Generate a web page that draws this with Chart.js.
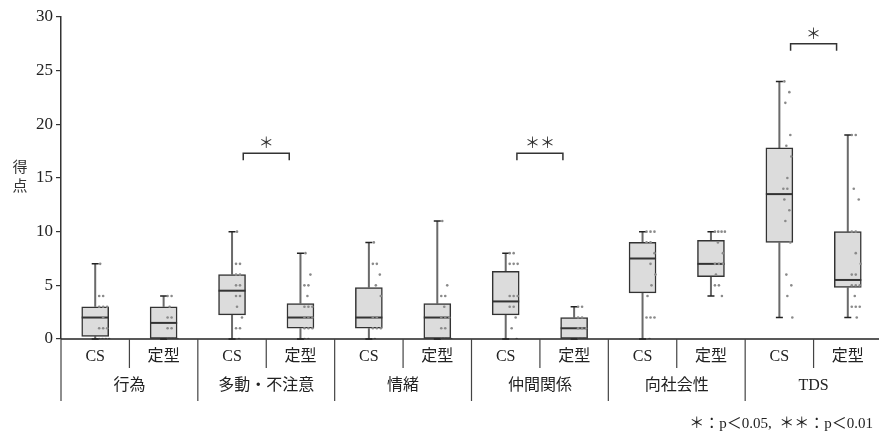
<!DOCTYPE html>
<html lang="ja">
<head>
<meta charset="utf-8">
<script src="https://cdn.jsdelivr.net/npm/chart.js@4.4.1/dist/chart.umd.min.js"></script>
<style>
  html, body { margin: 0; padding: 0; background: #fff; overflow: hidden; }
  #wrap { width: 879px; height: 438px; overflow: hidden; }
</style>
</head>
<body>
<div id="wrap"><canvas id="chart" width="886" height="438"></canvas></div>
<script>
// ── データ ──
const groups = ['行為', '多動・不注意', '情緒', '仲間関係', '向社会性', 'TDS'];
const categories = ['CS', '定型', 'CS', '定型', 'CS', '定型', 'CS', '定型', 'CS', '定型', 'CS', '定型'];

const whiskerLow  = [0, 0, 0, 0, 0, 0, 0, 0, 0, 4, 2, 2];
const q1          = [0.25, 0, 2.25, 1, 1, 0, 2.25, 0, 4.3, 5.8, 9, 4.8];
const median      = [2, 1.5, 4.5, 2, 2, 2, 3.5, 1, 7.5, 7, 13.5, 5.5];
const q3          = [3, 3, 6, 3.3, 4.8, 3.3, 6.3, 2, 9, 9.2, 17.8, 10];
const whiskerHigh = [7, 4, 10, 8, 9, 11, 8, 3, 10, 10, 24, 19];

const scores = [
  [7, 4, 4, 3, 3, 3, 2, 1, 1, 1, 0, 0, 0, 0],
  [4, 4, 3, 2, 2, 1, 1, 0, 0, 0, 0],
  [10, 7, 7, 6, 6, 5, 5, 4, 4, 3, 2, 1, 1, 0],
  [8, 6, 5, 5, 4, 3, 3, 3, 2, 2, 2, 1, 1, 1, 0, 0],
  [9, 7, 7, 6, 5, 4, 2, 2, 1, 1, 1, 0],
  [11, 5, 4, 4, 3, 2, 2, 2, 1, 1, 0, 0, 0, 0],
  [8, 8, 7, 7, 7, 4, 4, 4, 3, 3, 2, 1, 0],
  [3, 3, 2, 2, 1, 1, 1, 0, 0, 0],
  [10, 10, 10, 9, 9, 8, 7, 6, 5, 4, 2, 2, 2, 0],
  [10, 10, 10, 10, 9, 8, 7, 7, 7, 6, 5, 5, 4],
  [24, 23, 22, 19, 18, 17, 15, 14, 14, 13, 12, 11, 9, 6, 5, 4, 2],
  [19, 19, 14, 13, 10, 10, 8, 7, 6, 6, 5, 5, 5, 4, 3, 3, 3, 2],
];

const yTicks = [0, 5, 10, 15, 20, 25, 30];

// 有意差（CS 側のインデックス）
const sigIndex = [2, 6, 10];
const sigLevel = [17.3, 17.3, 27.5];
const sigMarks = ['＊', '＊＊', '＊'];

const yTitle = ['得', '点'];
const footnote = '＊：p＜0.05,  ＊＊：p＜0.01';

// ── 描画設定 ──
const FONT = '"Liberation Serif", "Noto Sans CJK JP", serif';
const CAT_PX = 68.75;

// 同値の点を横にずらす（箱の右側）
function spread(values) {
  const seen = {};
  return values.map((v, k) => {
    const n = values.filter(w => w === v).length;
    const j = seen[v] = (seen[v] || 0) + 1;
    const px = n === 1 ? 5 + (k * 5) % 9 : 4 + (j - 1) * Math.min(4, 10 / (n - 1));
    return px / CAT_PX;
  });
}

const pointData = [];
scores.forEach((vals, i) => {
  const offs = spread(vals);
  vals.forEach((v, k) => pointData.push({ x: i + offs[k], y: v }));
});

const boxPlugin = {
  id: 'boxPlugin',
  beforeDatasetsDraw(chart) {
    const { ctx } = chart;
    const x = chart.scales.x, y = chart.scales.y;
    ctx.save();
    categories.forEach((_, i) => {
      const cx = x.getPixelForValue(i);
      // ひげ
      ctx.strokeStyle = '#6a6a6a';
      ctx.lineWidth = 2;
      ctx.beginPath();
      if (whiskerHigh[i] > q3[i]) {
        ctx.moveTo(cx, y.getPixelForValue(q3[i]));
        ctx.lineTo(cx, y.getPixelForValue(whiskerHigh[i]));
      }
      if (whiskerLow[i] < q1[i]) {
        ctx.moveTo(cx, y.getPixelForValue(q1[i]));
        ctx.lineTo(cx, y.getPixelForValue(whiskerLow[i]));
      }
      ctx.stroke();
      ctx.strokeStyle = '#222';
      ctx.lineWidth = 1.5;
      ctx.beginPath();
      [whiskerHigh[i], whiskerLow[i]].forEach(v => {
        const py = y.getPixelForValue(v);
        ctx.moveTo(cx - 3.5, py);
        ctx.lineTo(cx + 3.5, py);
      });
      ctx.stroke();
    });
    ctx.restore();
  },
  afterDatasetDraw(chart, args) {
    if (args.index !== 0) return;
    const { ctx } = chart;
    const x = chart.scales.x, y = chart.scales.y;
    ctx.save();
    ctx.strokeStyle = '#333';
    ctx.lineWidth = 2;
    categories.forEach((_, i) => {
      const cx = x.getPixelForValue(i);
      const py = y.getPixelForValue(median[i]);
      ctx.beginPath();
      ctx.moveTo(cx - 13.5, py);
      ctx.lineTo(cx + 13.5, py);
      ctx.stroke();
    });
    ctx.restore();
  },
  afterDraw(chart) {
    const { ctx, chartArea } = chart;
    const x = chart.scales.x, y = chart.scales.y;
    const zeroY = y.getPixelForValue(0);
    const W = chart.width;
    ctx.save();

    // x 軸線と表の罫線
    ctx.strokeStyle = '#222';
    ctx.lineWidth = 1.5;
    ctx.beginPath();
    ctx.moveTo(chartArea.left, zeroY);
    ctx.lineTo(W, zeroY);
    ctx.stroke();

    ctx.strokeStyle = '#444';
    ctx.lineWidth = 1.2;
    ctx.beginPath();
    ctx.moveTo(chartArea.left, zeroY);
    ctx.lineTo(chartArea.left, zeroY + 62);
    for (let i = 1; i < categories.length; i++) {
      const bx = (x.getPixelForValue(i - 1) + x.getPixelForValue(i)) / 2;
      ctx.moveTo(bx, zeroY);
      ctx.lineTo(bx, zeroY + (i % 2 === 0 ? 62 : 29));
    }
    ctx.stroke();

    ctx.fillStyle = '#222';
    ctx.textAlign = 'center';
    ctx.textBaseline = 'middle';
    ctx.font = '16px ' + FONT;
    categories.forEach((c, i) => ctx.fillText(c, x.getPixelForValue(i), zeroY + 18));
    groups.forEach((g, gi) => {
      const gx = (x.getPixelForValue(gi * 2) + x.getPixelForValue(gi * 2 + 1)) / 2;
      ctx.fillText(g, gx, zeroY + 47);
    });

    // 縦軸タイトル
    ctx.fillStyle = '#333';
    ctx.font = '15px ' + FONT;
    const midY = (chartArea.top + zeroY) / 2;
    yTitle.forEach((ch, k) => ctx.fillText(ch, 20, midY - 9.5 + k * 19));

    // 有意差の括弧
    sigIndex.forEach((si, k) => {
      const mid = (x.getPixelForValue(si) + x.getPixelForValue(si + 1)) / 2;
      const py = y.getPixelForValue(sigLevel[k]);
      ctx.strokeStyle = '#333';
      ctx.lineWidth = 1.5;
      ctx.beginPath();
      ctx.moveTo(mid - 23, py + 7);
      ctx.lineTo(mid - 23, py);
      ctx.lineTo(mid + 23, py);
      ctx.lineTo(mid + 23, py + 7);
      ctx.stroke();
      ctx.fillStyle = '#333';
      ctx.font = '15px ' + FONT;
      ctx.fillText(sigMarks[k], mid, py - 9);
    });

    // 注
    ctx.fillStyle = '#222';
    ctx.font = '15px ' + FONT;
    ctx.textAlign = 'right';
    ctx.fillText(footnote, 873, 424);
    ctx.restore();
  }
};

new Chart(document.getElementById('chart'), {
  type: 'bar',
  data: {
    labels: categories,
    datasets: [
      {
        data: categories.map((_, i) => [q1[i], q3[i]]),
        backgroundColor: '#dcdcdc',
        borderColor: '#333',
        borderWidth: 1.5,
        borderSkipped: false,
        barThickness: 27,
        grouped: false,
        order: 1,
        xAxisID: 'x',
      },
      {
        type: 'scatter',
        data: pointData,
        xAxisID: 'xp',
        order: 0,
        pointRadius: 1.3,
        pointBackgroundColor: '#8a8a8a',
        pointBorderWidth: 0,
      },
    ],
  },
  options: {
    responsive: false,
    animation: false,
    layout: { padding: { left: 0, top: 17, right: 1, bottom: 99 } },
    plugins: { legend: { display: false }, tooltip: { enabled: false } },
    scales: {
      x: { type: 'category', display: false, offset: true },
      xp: { type: 'linear', display: false, offset: false, min: -0.5, max: 11.5 },
      y: {
        min: 0, max: 30,
        afterFit: s => { s.width = 61; },
        afterBuildTicks: s => { s.ticks = yTicks.map(v => ({ value: v })); },
        ticks: { color: '#222', padding: 3, font: { family: FONT, size: 17 } },
        grid: { drawOnChartArea: false, drawTicks: true, tickLength: 5, color: '#333', lineWidth: 1.2 },
        border: { color: '#333', width: 1.5 },
      },
    },
  },
  plugins: [boxPlugin],
});
</script>
</body>
</html>
